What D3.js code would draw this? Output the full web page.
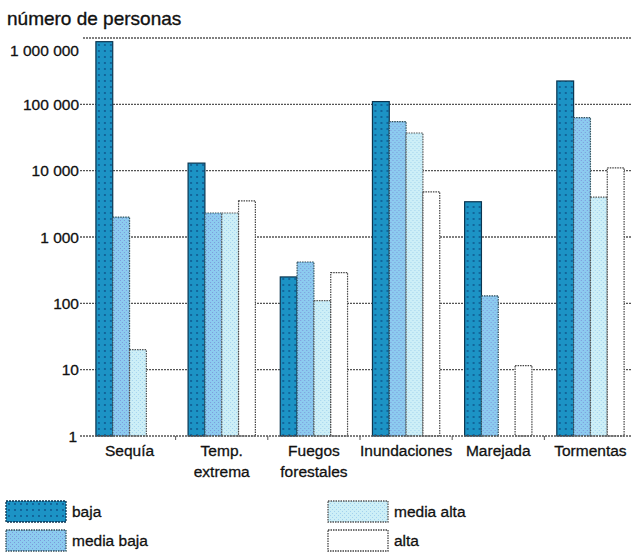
<!DOCTYPE html>
<html>
<head>
<meta charset="utf-8">
<script src="https://cdn.jsdelivr.net/npm/d3@7"></script>
<style>
  body { margin: 0; background: #fff; }
  svg text { font-family: "Liberation Sans", Arial, sans-serif; fill: #111; }
</style>
</head>
<body>
<div id="chart"></div>
<script>
const categories = ["Sequía", "Temp. extrema", "Fuegos forestales", "Inundaciones", "Marejada", "Tormentas"];
const catLines = [["Sequía"], ["Temp.", "extrema"], ["Fuegos", "forestales"], ["Inundaciones"], ["Marejada"], ["Tormentas"]];
const seriesNames = ["baja", "media baja", "media alta", "alta"];

// número de personas (null = sin barra)
const baja      = [880000, 13000, 250, 110000, 3400, 225000];
const mediaBaja = [2000, 2300, 420, 55000, 130, 63000];
const mediaAlta = [20, 2300, 110, 37000, null, 4000];
const alta      = [null, 3500, 290, 4800, 11.5, 11000];

const yTicks = [1, 10, 100, 1000, 10000, 100000, 1000000];
const yTickLabels = ["1", "10", "100", "1 000", "10 000", "100 000", "1 000 000"];

const series = [baja, mediaBaja, mediaAlta, alta];
const W = 631, H = 555;

const svg = d3.select("#chart").append("svg")
  .attr("width", W).attr("height", H);

// patterns
const defs = svg.append("defs");
const pb = defs.append("pattern").attr("id", "pBaja").attr("patternUnits", "userSpaceOnUse")
  .attr("width", 6).attr("height", 6);
pb.append("rect").attr("width", 6).attr("height", 6).attr("fill", "#1c93c5");
pb.append("circle").attr("cx", 3).attr("cy", 3).attr("r", 0.9).attr("fill", "#0d4f86");

const pmb = defs.append("pattern").attr("id", "pMB").attr("patternUnits", "userSpaceOnUse")
  .attr("width", 4).attr("height", 4);
pmb.append("rect").attr("width", 4).attr("height", 4).attr("fill", "#8ccbef");
pmb.append("rect").attr("x", 0).attr("y", 0).attr("width", 1).attr("height", 1).attr("fill", "#7c98dc");
pmb.append("rect").attr("x", 2).attr("y", 2).attr("width", 1).attr("height", 1).attr("fill", "#7c98dc");

const pma = defs.append("pattern").attr("id", "pMA").attr("patternUnits", "userSpaceOnUse")
  .attr("width", 4).attr("height", 4);
pma.append("rect").attr("width", 4).attr("height", 4).attr("fill", "#cdeff7");
pma.append("rect").attr("x", 0).attr("y", 0).attr("width", 1).attr("height", 1).attr("fill", "#a3d2ee");
pma.append("rect").attr("x", 2).attr("y", 2).attr("width", 1).attr("height", 1).attr("fill", "#a3d2ee");

const fills = ["url(#pBaja)", "url(#pMB)", "url(#pMA)", "#fff"];
const strokes = ["#0b3550", "#2f4f5a", "#555", "#444"];

const x0 = d3.scaleBand().domain(categories).range([83, 637])
  .paddingInner(0.27).paddingOuter(0.14);
const x1 = d3.scaleBand().domain(seriesNames).range([0, x0.bandwidth()]);
const y = d3.scaleLog().domain([1, 1000000]).range([436, 38]);

// title
svg.append("text").attr("x", 7).attr("y", 25)
  .style("font-size", "19px").style("stroke", "#111").style("stroke-width", 0.35)
  .text("número de personas");

// gridlines
svg.append("g").selectAll("line").data(yTicks.slice(1)).join("line")
  .attr("x1", (d, i) => i === yTicks.length - 2 ? 83 : 80).attr("x2", W)
  .attr("y1", d => y(d)).attr("y2", d => y(d))
  .attr("stroke", "#555").attr("stroke-width", 1.4).attr("stroke-dasharray", "2,1");

// y labels
svg.append("g").selectAll("text").data(yTicks).join("text")
  .attr("x", d => d === 1 ? 77 : 79)
  .attr("y", d => d === 1000000 ? y(d) + 12 : y(d))
  .attr("dy", "0.36em")
  .attr("text-anchor", "end")
  .style("font-size", "15.5px").style("stroke", "#111").style("stroke-width", 0.3)
  .text((d, i) => yTickLabels[i]);

// bars
const groups = svg.append("g").selectAll("g").data(categories).join("g")
  .attr("transform", d => `translate(${x0(d)},0)`);

groups.selectAll("rect")
  .data((c, ci) => seriesNames.map((s, si) => ({ s, si, v: series[si][ci] })).filter(d => d.v != null))
  .join("rect")
  .attr("x", d => x1(d.s))
  .attr("width", x1.bandwidth())
  .attr("y", d => y(d.v))
  .attr("height", d => y(1) - y(d.v))
  .attr("fill", d => fills[d.si])
  .attr("stroke", d => strokes[d.si])
  .attr("stroke-width", 1.2)
  .attr("stroke-dasharray", d => d.si === 0 ? null : "1.5,1");

// bottom axis
const gap = x0.step() - x0.bandwidth();
svg.append("line").attr("x1", 80).attr("x2", W).attr("y1", y(1)).attr("y2", y(1))
  .attr("stroke", "#555").attr("stroke-width", 1.4).attr("stroke-dasharray", "2,1");
svg.append("g").selectAll("line").data(categories.slice(1)).join("line")
  .attr("x1", d => x0(d) - gap / 2).attr("x2", d => x0(d) - gap / 2)
  .attr("y1", y(1)).attr("y2", y(1) + 4)
  .attr("stroke", "#555").attr("stroke-width", 1);

// category labels
const lab = svg.append("g").selectAll("text").data(categories).join("text")
  .attr("x", d => x0(d) + x0.bandwidth() / 2)
  .attr("y", 456)
  .attr("text-anchor", "middle")
  .style("font-size", "15.5px").style("stroke", "#111").style("stroke-width", 0.3);
lab.selectAll("tspan").data((d, i) => catLines[i]).join("tspan")
  .attr("x", function () { return d3.select(this.parentNode).attr("x"); })
  .attr("dy", (d, i) => i === 0 ? 0 : 21)
  .text(d => d);

// legend
const legPos = [[6, 501], [6, 530], [328, 501], [328, 530]];
const leg = svg.append("g").selectAll("g").data(seriesNames).join("g")
  .attr("transform", (d, i) => `translate(${legPos[i][0]},${legPos[i][1]})`);
leg.append("rect").attr("width", 60).attr("height", 21)
  .attr("fill", (d, i) => fills[i]).attr("stroke", (d, i) => strokes[i])
  .attr("stroke-width", 1.3).attr("stroke-dasharray", (d, i) => i === 0 ? "2,1" : "1.5,1");
leg.append("text").attr("x", 66).attr("y", 16)
  .style("font-size", "15.5px").style("stroke", "#111").style("stroke-width", 0.3)
  .text(d => d);
</script>
</body>
</html>
